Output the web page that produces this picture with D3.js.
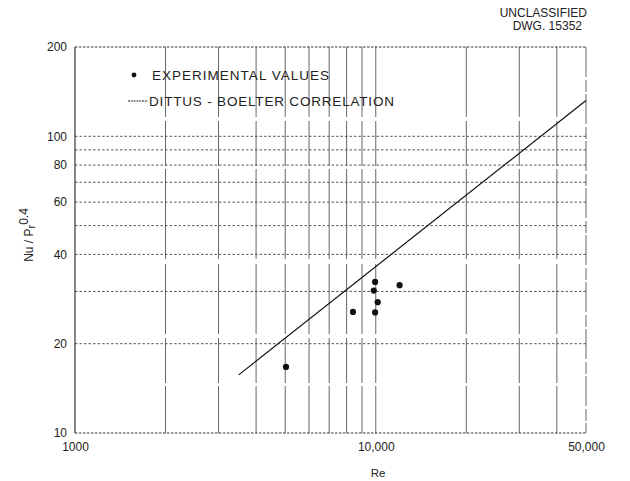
<!DOCTYPE html>
<html>
<head>
<meta charset="utf-8">
<script src="https://cdn.jsdelivr.net/npm/d3@7"></script>
<style>
  html, body { margin: 0; padding: 0; background: #fff; }
  svg { display: block; }
  text { font-family: "Liberation Sans", Arial, sans-serif; fill: #222; }
</style>
</head>
<body>
<svg id="chart" width="630" height="481"></svg>
<script>
// Reynolds number tick labels on the bottom axis
const reTicks = [1000, 10000, 50000];
const reTickLabels = ["1000", "10,000", "50,000"];
// Nu / Pr^0.4 tick labels on the left axis
const nuTicks = [10, 20, 40, 60, 80, 100, 200];
// grid lines (vertical: Re, horizontal: Nu/Pr^0.4)
const reGrid = [2000, 3000, 4000, 5000, 6000, 7000, 8000, 9000, 10000, 20000, 30000, 40000];
const nuGrid = [20, 30, 40, 50, 60, 70, 80, 90, 100];
// experimental values
const expRe = [5030, 8400, 9950, 9850, 10150, 9950, 12000];
const expNu = [16.7, 25.6, 32.3, 30.2, 27.6, 25.5, 31.5];
// Dittus-Boelter correlation, end points of the straight log-log line
const corrRe = [3500, 50000];
const corrNu = [15.7, 132];

const svg = d3.select("#chart");
const plotLeft = 75, plotRight = 586, plotTop = 47, plotBottom = 433;

const x = d3.scaleLog().domain([1000, 50000]).range([plotLeft, plotRight]);
const y = d3.scaleLog().domain([10, 200]).range([plotBottom, plotTop]);

// vertical grid: solid rulings with occasional breaks
svg.append("g").selectAll("line").data(reGrid).join("line")
  .attr("x1", d => x(d)).attr("x2", d => x(d))
  .attr("y1", plotTop).attr("y2", plotBottom)
  .attr("stroke", "#555").attr("stroke-width", 0.9)
  .attr("stroke-dasharray", "70,4,45,3,90,5");

// horizontal grid: dotted
svg.append("g").selectAll("line").data(nuGrid).join("line")
  .attr("x1", plotLeft).attr("x2", plotRight)
  .attr("y1", d => y(d)).attr("y2", d => y(d))
  .attr("stroke", "#444").attr("stroke-width", 0.9)
  .attr("stroke-dasharray", "2.5,2");

// frame: solid left edge, dotted elsewhere
svg.append("line").attr("x1", plotLeft).attr("x2", plotLeft).attr("y1", plotTop).attr("y2", plotBottom)
  .attr("stroke", "#222").attr("stroke-width", 1.1);
svg.append("line").attr("x1", plotRight).attr("x2", plotRight).attr("y1", plotTop).attr("y2", plotBottom)
  .attr("stroke", "#555").attr("stroke-width", 0.9).attr("stroke-dasharray", "30,3,12,2");
[plotTop, plotBottom].forEach(v => {
  svg.append("line").attr("x1", plotLeft).attr("x2", plotRight).attr("y1", v).attr("y2", v)
    .attr("stroke", "#333").attr("stroke-width", 1).attr("stroke-dasharray", "2.5,1.5");
});

// axes (labels only)
const yAxis = svg.append("g").attr("transform", `translate(${plotLeft},0)`)
  .call(d3.axisLeft(y).tickValues(nuTicks).tickFormat(d3.format("d")).tickSize(0).tickPadding(8));
yAxis.select(".domain").remove();
yAxis.selectAll("text").attr("font-size", 12).attr("fill", "#222")
  .style("font-family", "'Liberation Sans', Arial, sans-serif");

const xAxis = svg.append("g").attr("transform", `translate(0,${plotBottom})`)
  .call(d3.axisBottom(x).tickValues(reTicks).tickFormat((d, i) => reTickLabels[i]).tickSize(0).tickPadding(9));
xAxis.select(".domain").remove();
xAxis.selectAll("text").attr("font-size", 12).attr("fill", "#222")
  .style("font-family", "'Liberation Sans', Arial, sans-serif");

// correlation line
svg.append("path")
  .datum(corrRe.map((r, i) => [r, corrNu[i]]))
  .attr("d", d3.line().x(d => x(d[0])).y(d => y(d[1])))
  .attr("fill", "none").attr("stroke", "#111").attr("stroke-width", 1.2);

// experimental points
svg.append("g").selectAll("circle").data(expRe.map((r, i) => [r, expNu[i]])).join("circle")
  .attr("cx", d => x(d[0])).attr("cy", d => y(d[1])).attr("r", 3.1)
  .attr("fill", "#111");

// legend
svg.append("circle").attr("cx", 134).attr("cy", 75).attr("r", 2.4).attr("fill", "#111");
svg.append("text").attr("x", 152).attr("y", 80).attr("font-size", 13.5)
  .attr("textLength", 177).attr("lengthAdjust", "spacing")
  .text("EXPERIMENTAL  VALUES");
svg.append("line").attr("x1", 128).attr("x2", 148).attr("y1", 101).attr("y2", 101)
  .attr("stroke", "#222").attr("stroke-width", 1).attr("stroke-dasharray", "2,0.8");
svg.append("text").attr("x", 149).attr("y", 106).attr("font-size", 13.5)
  .attr("textLength", 245).attr("lengthAdjust", "spacing")
  .text("DITTUS - BOELTER  CORRELATION");

// axis titles
svg.append("text").attr("x", 378).attr("y", 477).attr("font-size", 11.5)
  .attr("text-anchor", "middle").text("Re");
const yt = svg.append("text")
  .attr("transform", "translate(33,235) rotate(-90)")
  .attr("text-anchor", "middle").attr("font-size", 12);
yt.append("tspan").text("Nu / P");
yt.append("tspan").attr("font-size", 11).attr("dy", 2).text("r");
yt.append("tspan").attr("font-size", 12).attr("dy", -7).text("0.4");

// drawing number block
svg.append("text").attr("x", 587).attr("y", 17).attr("text-anchor", "end")
  .attr("font-size", 12).text("UNCLASSIFIED");
svg.append("text").attr("x", 582).attr("y", 30).attr("text-anchor", "end")
  .attr("font-size", 12).text("DWG. 15352");
</script>
</body>
</html>
